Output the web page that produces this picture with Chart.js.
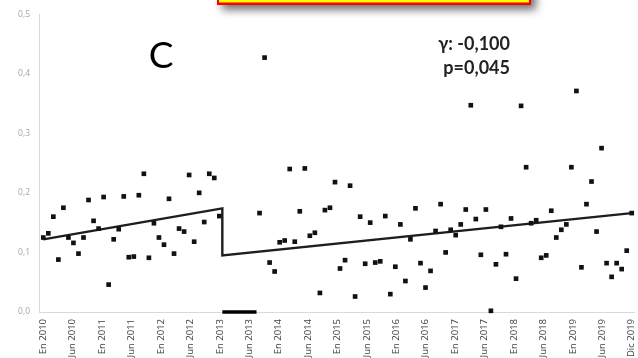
<!DOCTYPE html>
<html>
<head>
<meta charset="utf-8">
<script src="https://cdn.jsdelivr.net/npm/chart.js@4.4.1/dist/chart.umd.min.js"></script>
<style>
  html, body { margin: 0; padding: 0; background: #fff; }
</style>
</head>
<body>
<canvas id="myChart" width="638" height="358"></canvas>
<script>
// etiquetas del eje x (cada 6 meses)
const etiquetas = ['En 2010', 'Jun 2010', 'En 2011', 'Jun 2011', 'En 2012', 'Jun 2012', 'En 2013',
  'Jun 2013', 'En 2014', 'Jun 2014', 'En 2015', 'Jun 2015', 'En 2016', 'Jun 2016', 'En 2017',
  'Jun 2017', 'En 2018', 'Jun 2018', 'En 2019', 'Jun 2019', 'Dic 2019'];

// valores mensuales, null = periodo sin datos
const valores = [
  0.125, 0.132, 0.160, 0.088, 0.175, 0.125, 0.116, 0.098, 0.125, 0.188,
  0.153, 0.140, 0.193, 0.046, 0.122, 0.139, 0.194, 0.092, 0.093, 0.196,
  0.232, 0.091, 0.149, 0.125, 0.113, 0.190, 0.098, 0.140, 0.135, 0.230,
  0.118, 0.200, 0.151, 0.232, 0.225, 0.161,
  null, null, null, null, null, null, null,
  0.166, 0.427, 0.083, 0.068, 0.117, 0.120, 0.240, 0.118, 0.169, 0.241,
  0.128, 0.133, 0.032, 0.171, 0.175, 0.218, 0.073, 0.087, 0.212, 0.026,
  0.160, 0.081, 0.150, 0.083, 0.085, 0.161, 0.030, 0.076, 0.147, 0.052,
  0.122, 0.174, 0.082, 0.041, 0.069, 0.136, 0.181, 0.100, 0.138, 0.129,
  0.147, 0.172, 0.347, 0.156, 0.096, 0.172, 0.002, 0.080, 0.143, 0.097,
  0.157, 0.056, 0.346, 0.243, 0.149, 0.154, 0.091, 0.095, 0.170, 0.125,
  0.138, 0.147, 0.243, 0.371, 0.075, 0.181, 0.219, 0.135, 0.275, 0.082,
  0.059, 0.082, 0.072, 0.103, 0.166
];

// recta de regresion segmentada
const ajusteX = [0, 35.6, 35.6, 117];
const ajusteY = [0.122, 0.174, 0.095, 0.166];

// periodo de intervencion (barra negra en el eje)
const periodoX = [35.6, 42.4];

const yTicks = [0, 0.1, 0.2, 0.3, 0.4, 0.5];
const textoC = 'C';
const textoStats = ['γ: -0,100', 'p=0,045'];

const ultimo = valores.length - 1;
const puntos = valores.map((v, i) => ({ x: i, y: v }));
const lineaAjuste = ajusteX.map((x, i) => ({ x: x, y: ajusteY[i] }));
const lineaPeriodo = periodoX.map(x => ({ x: x, y: 0 }));

// dibuja el recuadro amarillo de arriba y los textos
const adornos = {
  id: 'adornos',
  beforeDatasetsDraw(chart) {
    const c = chart.ctx;
    c.save();
    c.shadowColor = 'rgba(0,0,0,0.55)';
    c.shadowBlur = 9;
    c.shadowOffsetX = 5;
    c.shadowOffsetY = 5;
    c.fillStyle = '#ff0000';
    c.fillRect(217, -20, 314, 25);
    c.restore();
    c.save();
    c.fillStyle = '#ffff00';
    c.fillRect(219, -20, 310, 22.5);

    c.fillStyle = '#000';
    c.font = '37px Lato';
    c.textAlign = 'center';
    c.textBaseline = 'middle';
    c.fillText(textoC, 161, 56);

    c.fillStyle = '#222';
    c.font = 'bold 18px Lato';
    c.textAlign = 'right';
    c.fillText(textoStats[0], 510, 44);
    c.fillText(textoStats[1], 510, 68);
    c.restore();
  }
};

const ctx = document.getElementById('myChart');
const chart1 = new Chart(ctx, {
  type: 'scatter',
  data: {
    datasets: [{
      data: puntos,
      pointStyle: 'rect',
      pointRadius: 3.3,
      pointBackgroundColor: '#111',
      pointBorderWidth: 0,
      clip: false
    }, {
      data: lineaAjuste,
      showLine: true,
      borderColor: '#1e1e1e',
      borderWidth: 2.4,
      pointRadius: 0
    }, {
      data: lineaPeriodo,
      showLine: true,
      borderColor: '#000',
      borderWidth: 3.5,
      pointRadius: 0,
      clip: false
    }]
  },
  options: {
    responsive: false,
    animation: false,
    devicePixelRatio: 1,
    layout: { padding: { top: 12, right: 0, left: 0, bottom: 0 } },
    plugins: { legend: { display: false }, tooltip: { enabled: false } },
    scales: {
      x: {
        type: 'linear',
        min: -0.85,
        max: ultimo + 0.45,
        grid: { display: false, drawTicks: false },
        border: { display: true, color: '#d9d9d9', width: 1 },
        afterBuildTicks: (scale) => {
          scale.ticks = etiquetas.map((e, k) => ({ value: k * ultimo / (etiquetas.length - 1) }));
        },
        afterFit: (scale) => {
          scale.height = 46;
          scale.paddingLeft = 0;
          scale.paddingRight = 0;
        },
        ticks: {
          autoSkip: false,
          minRotation: 90,
          maxRotation: 90,
          padding: 7,
          color: '#404040',
          font: { family: 'Open Sans', size: 9.5 },
          callback: (v, i) => etiquetas[i]
        }
      },
      y: {
        min: 0,
        max: 0.5,
        grid: { display: false, drawTicks: false },
        border: { display: true, color: '#d9d9d9', width: 1 },
        afterBuildTicks: (scale) => {
          scale.ticks = yTicks.map(v => ({ value: v }));
        },
        afterFit: (scale) => { scale.width = 39; },
        ticks: {
          padding: 9,
          color: '#a6a6a6',
          font: { family: 'Open Sans', size: 8.5 },
          callback: (v) => v.toFixed(1).replace('.', ',')
        }
      }
    }
  },
  plugins: [adornos]
});
</script>
</body>
</html>
